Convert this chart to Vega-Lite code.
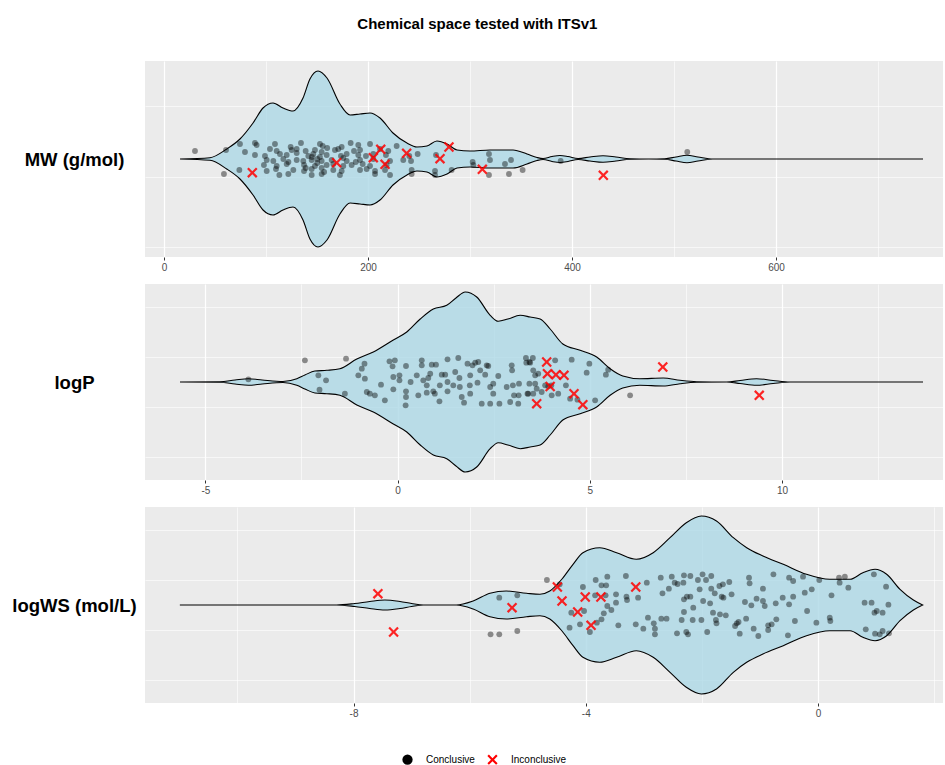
{
"$schema": "https://vega.github.io/schema/vega-lite/v6.json",
"padding": {"left": 11, "top": 17, "right": 2, "bottom": 2},
"title": {"text": "Chemical space tested with ITSv1", "fontSize": 15, "fontWeight": "bold", "font": "Liberation Sans", "anchor": "middle", "frame": "bounds", "offset": 29, "color": "#000000"},
"spacing": 12,
"datasets": {
"v1": [
{"v":15.7,"lo":0,"hi":0},{"v":45.1,"lo":-1.3,"hi":1.3},{"v":61.5,"lo":-10,"hi":10},{"v":74.5,"lo":-20,"hi":20},{"v":87.3,"lo":-36,"hi":36},{"v":97.1,"lo":-51,"hi":51},{"v":106.9,"lo":-56,"hi":56},{"v":116.7,"lo":-51,"hi":51},{"v":126.5,"lo":-48,"hi":48},{"v":136.3,"lo":-61,"hi":61},{"v":143.1,"lo":-80,"hi":80},{"v":151,"lo":-88,"hi":88},{"v":159.8,"lo":-81,"hi":81},{"v":172.5,"lo":-55,"hi":55},{"v":182.4,"lo":-44,"hi":44},{"v":192.2,"lo":-45,"hi":45},{"v":202,"lo":-46,"hi":46},{"v":211.8,"lo":-41,"hi":41},{"v":224.5,"lo":-26,"hi":26},{"v":238.2,"lo":-16,"hi":16},{"v":248,"lo":-12,"hi":12},{"v":257.8,"lo":-13,"hi":13},{"v":267.6,"lo":-18,"hi":18},{"v":277.5,"lo":-15,"hi":15},{"v":287.3,"lo":-9,"hi":9},{"v":300,"lo":-8,"hi":8},{"v":319.6,"lo":-9,"hi":9},{"v":342.2,"lo":-9,"hi":9},{"v":355.9,"lo":-5,"hi":5},{"v":365.7,"lo":-1.5,"hi":1.5},{"v":371.6,"lo":-0.5,"hi":0.5},{"v":380.4,"lo":-2.5,"hi":2.5},{"v":388.2,"lo":-3.5,"hi":3.5},{"v":396.1,"lo":-2.5,"hi":2.5},{"v":405.9,"lo":-0.5,"hi":0.5},{"v":417.6,"lo":-2,"hi":2},{"v":430.4,"lo":-3.3,"hi":3.3},{"v":443.1,"lo":-2,"hi":2},{"v":456.9,"lo":-0.3,"hi":0.3},{"v":475,"lo":0,"hi":0},{"v":491,"lo":-0.3,"hi":0.3},{"v":502,"lo":-2,"hi":2},{"v":512.7,"lo":-3.7,"hi":3.7},{"v":523.5,"lo":-2,"hi":2},{"v":538.2,"lo":0,"hi":0},{"v":744.1,"lo":0,"hi":0}
],
"v2": [
{"v":-5.66,"lo":0,"hi":0},{"v":-4.62,"lo":-0.3,"hi":0.3},{"v":-4.23,"lo":-2,"hi":2},{"v":-3.88,"lo":-3.3,"hi":3.3},{"v":-3.52,"lo":-2,"hi":2},{"v":-2.98,"lo":-0.5,"hi":0.5},{"v":-2.62,"lo":-3.3,"hi":3.3},{"v":-2.41,"lo":-7,"hi":7},{"v":-2.15,"lo":-11,"hi":11},{"v":-1.84,"lo":-11.7,"hi":11.7},{"v":-1.5,"lo":-13.3,"hi":13.3},{"v":-1.06,"lo":-23,"hi":23},{"v":-0.63,"lo":-30,"hi":30},{"v":-0.11,"lo":-42,"hi":42},{"v":0.24,"lo":-50,"hi":50},{"v":0.59,"lo":-63,"hi":63},{"v":0.93,"lo":-73,"hi":73},{"v":1.28,"lo":-76.7,"hi":76.7},{"v":1.52,"lo":-84,"hi":84},{"v":1.76,"lo":-90,"hi":90},{"v":2.06,"lo":-85,"hi":85},{"v":2.41,"lo":-66.7,"hi":66.7},{"v":2.62,"lo":-60.7,"hi":60.7},{"v":2.87,"lo":-63,"hi":63},{"v":3.19,"lo":-66.7,"hi":66.7},{"v":3.45,"lo":-65,"hi":65},{"v":3.71,"lo":-63,"hi":63},{"v":3.97,"lo":-53,"hi":53},{"v":4.3,"lo":-38,"hi":38},{"v":4.75,"lo":-31.7,"hi":31.7},{"v":5.18,"lo":-25,"hi":25},{"v":5.53,"lo":-13.3,"hi":13.3},{"v":5.86,"lo":-6,"hi":6},{"v":6.3,"lo":-3.3,"hi":3.3},{"v":6.91,"lo":-4,"hi":4},{"v":7.35,"lo":-1.7,"hi":1.7},{"v":7.78,"lo":-0.3,"hi":0.3},{"v":8.56,"lo":0,"hi":0},{"v":8.91,"lo":-1.5,"hi":1.5},{"v":9.34,"lo":-3.3,"hi":3.3},{"v":9.77,"lo":-1.5,"hi":1.5},{"v":10.21,"lo":0,"hi":0},{"v":13.67,"lo":0,"hi":0}
],
"v3": [
{"v":-10.99,"lo":0,"hi":0},{"v":-8.29,"lo":0,"hi":0},{"v":-7.98,"lo":-1.5,"hi":1.5},{"v":-7.72,"lo":-3.5,"hi":3.5},{"v":-7.46,"lo":-5,"hi":5},{"v":-7.2,"lo":-3.5,"hi":3.5},{"v":-7,"lo":-1.5,"hi":1.5},{"v":-6.8,"lo":0,"hi":0},{"v":-6.23,"lo":0,"hi":0},{"v":-5.94,"lo":-4,"hi":4},{"v":-5.65,"lo":-11.7,"hi":11.7},{"v":-5.37,"lo":-14,"hi":14},{"v":-5.02,"lo":-11.7,"hi":11.7},{"v":-4.79,"lo":-10.7,"hi":10.7},{"v":-4.62,"lo":-14,"hi":14},{"v":-4.41,"lo":-26,"hi":26},{"v":-4.22,"lo":-40.7,"hi":40.7},{"v":-4.05,"lo":-52.3,"hi":52.3},{"v":-3.76,"lo":-57.3,"hi":57.3},{"v":-3.47,"lo":-52.3,"hi":52.3},{"v":-3.13,"lo":-45.7,"hi":45.7},{"v":-2.84,"lo":-52.3,"hi":52.3},{"v":-2.55,"lo":-67.3,"hi":67.3},{"v":-2.27,"lo":-82.3,"hi":82.3},{"v":-2.01,"lo":-89,"hi":89},{"v":-1.75,"lo":-84,"hi":84},{"v":-1.46,"lo":-67.3,"hi":67.3},{"v":-1.23,"lo":-57.3,"hi":57.3},{"v":-0.95,"lo":-49,"hi":49},{"v":-0.6,"lo":-40.7,"hi":40.7},{"v":-0.2,"lo":-30.7,"hi":30.7},{"v":0.2,"lo":-25.7,"hi":25.7},{"v":0.55,"lo":-25.7,"hi":25.7},{"v":0.77,"lo":-32.3,"hi":32.3},{"v":0.98,"lo":-35.7,"hi":35.7},{"v":1.18,"lo":-30.7,"hi":30.7},{"v":1.41,"lo":-15.7,"hi":15.7},{"v":1.64,"lo":-5,"hi":5},{"v":1.8,"lo":0,"hi":0}
],
"p1": [
{"v":74.5,"y":15,"status":"Conclusive"},{"v":89.2,"y":16,"status":"Conclusive"},{"v":90.8,"y":14,"status":"Conclusive"},{"v":108.8,"y":15,"status":"Conclusive"},{"v":134.3,"y":16,"status":"Conclusive"},{"v":152.9,"y":15,"status":"Conclusive"},{"v":183,"y":16,"status":"Conclusive"},{"v":202,"y":15,"status":"Conclusive"},{"v":228.1,"y":13,"status":"Conclusive"},
{"v":124.2,"y":12,"status":"Conclusive"},{"v":155.6,"y":13,"status":"Conclusive"},{"v":174.2,"y":12,"status":"Conclusive"},{"v":190.5,"y":14,"status":"Conclusive"},
{"v":30.4,"y":8,"status":"Conclusive"},{"v":60.8,"y":9,"status":"Conclusive"},{"v":79.4,"y":7,"status":"Conclusive"},{"v":103.9,"y":10,"status":"Conclusive"},{"v":110.5,"y":8,"status":"Conclusive"},{"v":125.2,"y":9,"status":"Conclusive"},{"v":130.1,"y":10,"status":"Conclusive"},{"v":138.9,"y":8,"status":"Conclusive"},{"v":148,"y":9,"status":"Conclusive"},{"v":154.6,"y":7,"status":"Conclusive"},{"v":167.6,"y":9,"status":"Conclusive"},{"v":170.9,"y":10,"status":"Conclusive"},{"v":186.3,"y":8,"status":"Conclusive"},{"v":192.2,"y":9,"status":"Conclusive"},{"v":211.8,"y":10,"status":"Conclusive"},{"v":219.9,"y":8,"status":"Conclusive"},
{"v":89.2,"y":4,"status":"Conclusive"},{"v":99,"y":3,"status":"Conclusive"},{"v":113.7,"y":5,"status":"Conclusive"},{"v":120.3,"y":4,"status":"Conclusive"},{"v":141.5,"y":3,"status":"Conclusive"},{"v":146.4,"y":5,"status":"Conclusive"},{"v":159.5,"y":4,"status":"Conclusive"},{"v":173.5,"y":3,"status":"Conclusive"},{"v":179.1,"y":5,"status":"Conclusive"},{"v":190.5,"y":4,"status":"Conclusive"},{"v":198,"y":3,"status":"Conclusive"},{"v":205.2,"y":5,"status":"Conclusive"},{"v":217.6,"y":4,"status":"Conclusive"},{"v":240.5,"y":3,"status":"Conclusive"},{"v":248.7,"y":5,"status":"Conclusive"},{"v":266.7,"y":4,"status":"Conclusive"},
{"v":100.7,"y":-1,"status":"Conclusive"},{"v":107.2,"y":-2,"status":"Conclusive"},{"v":117,"y":0,"status":"Conclusive"},{"v":130.1,"y":-1,"status":"Conclusive"},{"v":136.6,"y":-2,"status":"Conclusive"},{"v":144.8,"y":-1,"status":"Conclusive"},{"v":150.3,"y":0,"status":"Conclusive"},{"v":154.6,"y":-2,"status":"Conclusive"},{"v":164.4,"y":-1,"status":"Conclusive"},{"v":179.1,"y":-2,"status":"Conclusive"},{"v":192.2,"y":-1,"status":"Conclusive"},{"v":205.2,"y":0,"status":"Conclusive"},{"v":221.6,"y":-2,"status":"Conclusive"},{"v":234.6,"y":-1,"status":"Conclusive"},{"v":242.2,"y":-2,"status":"Conclusive"},{"v":302.6,"y":-3,"status":"Conclusive"},{"v":319.6,"y":-1,"status":"Conclusive"},{"v":340.2,"y":-1,"status":"Conclusive"},
{"v":98,"y":-6,"status":"Conclusive"},{"v":110.5,"y":-7,"status":"Conclusive"},{"v":120.3,"y":-5,"status":"Conclusive"},{"v":137.3,"y":-6,"status":"Conclusive"},{"v":148,"y":-7,"status":"Conclusive"},{"v":159.5,"y":-6,"status":"Conclusive"},{"v":166,"y":-5,"status":"Conclusive"},{"v":175.8,"y":-7,"status":"Conclusive"},{"v":184,"y":-6,"status":"Conclusive"},{"v":194.8,"y":-5,"status":"Conclusive"},{"v":202,"y":-7,"status":"Conclusive"},{"v":218.3,"y":-6,"status":"Conclusive"},{"v":303.3,"y":-6,"status":"Conclusive"},{"v":334.3,"y":-5,"status":"Conclusive"},
{"v":73.9,"y":-11,"status":"Conclusive"},{"v":100.7,"y":-12,"status":"Conclusive"},{"v":109.8,"y":-10,"status":"Conclusive"},{"v":126.8,"y":-11,"status":"Conclusive"},{"v":137.3,"y":-12,"status":"Conclusive"},{"v":144.8,"y":-10,"status":"Conclusive"},{"v":166,"y":-11,"status":"Conclusive"},{"v":174.2,"y":-12,"status":"Conclusive"},{"v":192.2,"y":-11,"status":"Conclusive"},{"v":198.7,"y":-10,"status":"Conclusive"},{"v":206.9,"y":-12,"status":"Conclusive"},{"v":216.7,"y":-11,"status":"Conclusive"},{"v":242.8,"y":-11,"status":"Conclusive"},{"v":265.7,"y":-12,"status":"Conclusive"},{"v":282,"y":-11,"status":"Conclusive"},{"v":351.6,"y":-11,"status":"Conclusive"},
{"v":58.8,"y":-15,"status":"Conclusive"},{"v":113.1,"y":-16,"status":"Conclusive"},{"v":121.9,"y":-15,"status":"Conclusive"},{"v":144.8,"y":-16,"status":"Conclusive"},{"v":154.6,"y":-15,"status":"Conclusive"},{"v":172.5,"y":-16,"status":"Conclusive"},{"v":206.9,"y":-15,"status":"Conclusive"},{"v":221.6,"y":-16,"status":"Conclusive"},{"v":242.8,"y":-15,"status":"Conclusive"},{"v":265.7,"y":-16,"status":"Conclusive"},{"v":318.6,"y":-16,"status":"Conclusive"},{"v":338.2,"y":-15,"status":"Conclusive"},
{"v":318.6,"y":5,"status":"Conclusive"},{"v":388.9,"y":-2,"status":"Conclusive"},{"v":513,"y":7,"status":"Conclusive"},
{"v":150.3,"y":-4,"status":"Conclusive"},{"v":152.9,"y":2,"status":"Conclusive"},{"v":154.6,"y":-9,"status":"Conclusive"},{"v":157,"y":-13,"status":"Conclusive"},{"v":139,"y":-9,"status":"Conclusive"},{"v":130.1,"y":6,"status":"Conclusive"},{"v":175.8,"y":1,"status":"Conclusive"},{"v":188,"y":-3,"status":"Conclusive"},{"v":160,"y":11,"status":"Conclusive"},{"v":122,"y":-3,"status":"Conclusive"},{"v":145,"y":2,"status":"Conclusive"},
{"v":86.6,"y":-13.7,"status":"Inconclusive"},{"v":169.3,"y":-3.7,"status":"Inconclusive"},{"v":205.2,"y":1.3,"status":"Inconclusive"},{"v":212.5,"y":9.7,"status":"Inconclusive"},{"v":216.7,"y":-5.3,"status":"Inconclusive"},{"v":237.9,"y":5.7,"status":"Inconclusive"},{"v":270.6,"y":0.3,"status":"Inconclusive"},{"v":279.4,"y":12,"status":"Inconclusive"},{"v":312.1,"y":-10.3,"status":"Inconclusive"},{"v":430.7,"y":-16.3,"status":"Inconclusive"}
],
"p2": [
{"v":-2.41,"y":21.7,"status":"Conclusive"},{"v":-1.34,"y":23.3,"status":"Conclusive"},{"v":-3.88,"y":2.7,"status":"Conclusive"},{"v":-2.06,"y":6.7,"status":"Conclusive"},{"v":-1.86,"y":1.7,"status":"Conclusive"},{"v":-2.03,"y":-7.7,"status":"Conclusive"},{"v":-1.37,"y":-11.7,"status":"Conclusive"},{"v":-0.86,"y":18.3,"status":"Conclusive"},{"v":-0.93,"y":13.3,"status":"Conclusive"},{"v":-1.02,"y":6.7,"status":"Conclusive"},{"v":-0.85,"y":3.3,"status":"Conclusive"},{"v":-0.8,"y":-10,"status":"Conclusive"},{"v":-0.72,"y":-11.7,"status":"Conclusive"},{"v":-0.59,"y":-13.3,"status":"Conclusive"},{"v":-0.33,"y":-18.3,"status":"Conclusive"},{"v":-0.43,"y":-2.7,"status":"Conclusive"},{"v":-0.21,"y":20.7,"status":"Conclusive"},{"v":-0.07,"y":21.7,"status":"Conclusive"},{"v":-0.13,"y":15.7,"status":"Conclusive"},{"v":-0.11,"y":5,"status":"Conclusive"},{"v":-0.11,"y":-7.3,"status":"Conclusive"},{"v":0.05,"y":6.7,"status":"Conclusive"},{"v":0.05,"y":1.7,"status":"Conclusive"},{"v":0.22,"y":16,"status":"Conclusive"},{"v":0.22,"y":-9.3,"status":"Conclusive"},{"v":0.22,"y":-15,"status":"Conclusive"},{"v":0.21,"y":-23.3,"status":"Conclusive"},{"v":0.34,"y":0,"status":"Conclusive"},{"v":0.5,"y":6.7,"status":"Conclusive"},{"v":0.54,"y":-13.3,"status":"Conclusive"},{"v":0.63,"y":21.7,"status":"Conclusive"},{"v":0.63,"y":16.7,"status":"Conclusive"},{"v":0.67,"y":1.7,"status":"Conclusive"},{"v":0.76,"y":-3.3,"status":"Conclusive"},{"v":0.76,"y":-10.7,"status":"Conclusive"},{"v":0.89,"y":17.3,"status":"Conclusive"},{"v":1.0,"y":17.3,"status":"Conclusive"},{"v":0.85,"y":8.3,"status":"Conclusive"},{"v":0.8,"y":4,"status":"Conclusive"},{"v":0.93,"y":-9.3,"status":"Conclusive"},{"v":0.97,"y":-11.7,"status":"Conclusive"},{"v":1.09,"y":-19.3,"status":"Conclusive"},{"v":1.1,"y":-3.3,"status":"Conclusive"},{"v":1.15,"y":7.3,"status":"Conclusive"},{"v":1.24,"y":7.3,"status":"Conclusive"},{"v":1.3,"y":22.7,"status":"Conclusive"},{"v":1.3,"y":0,"status":"Conclusive"},{"v":1.3,"y":-9.3,"status":"Conclusive"},{"v":1.45,"y":-3.3,"status":"Conclusive"},{"v":1.5,"y":10,"status":"Conclusive"},{"v":1.58,"y":24,"status":"Conclusive"},{"v":1.61,"y":4,"status":"Conclusive"},{"v":1.62,"y":-5,"status":"Conclusive"},{"v":1.67,"y":-15,"status":"Conclusive"},{"v":1.73,"y":-20.7,"status":"Conclusive"},{"v":1.82,"y":18.3,"status":"Conclusive"},{"v":1.89,"y":6.7,"status":"Conclusive"},{"v":1.88,"y":-3.3,"status":"Conclusive"},{"v":1.89,"y":-11.7,"status":"Conclusive"},{"v":1.95,"y":16.7,"status":"Conclusive"},{"v":2.02,"y":19.3,"status":"Conclusive"},{"v":2.1,"y":20,"status":"Conclusive"},{"v":2.15,"y":11.7,"status":"Conclusive"},{"v":2.08,"y":-0.7,"status":"Conclusive"},{"v":2.19,"y":-21.7,"status":"Conclusive"},{"v":2.28,"y":7.3,"status":"Conclusive"},{"v":2.32,"y":16.7,"status":"Conclusive"},{"v":2.36,"y":16,"status":"Conclusive"},{"v":2.41,"y":-21.7,"status":"Conclusive"},{"v":2.41,"y":-5,"status":"Conclusive"},{"v":2.49,"y":-1.7,"status":"Conclusive"},{"v":2.49,"y":-11.7,"status":"Conclusive"},{"v":2.62,"y":6,"status":"Conclusive"},{"v":2.65,"y":-21.7,"status":"Conclusive"},{"v":2.84,"y":-5,"status":"Conclusive"},{"v":2.93,"y":-20,"status":"Conclusive"},{"v":2.97,"y":16.7,"status":"Conclusive"},{"v":2.98,"y":11.7,"status":"Conclusive"},{"v":3.0,"y":-3.3,"status":"Conclusive"},{"v":3.03,"y":-13.3,"status":"Conclusive"},{"v":3.14,"y":-21.7,"status":"Conclusive"},{"v":3.15,"y":-13.3,"status":"Conclusive"},{"v":3.16,"y":-1.7,"status":"Conclusive"},{"v":3.34,"y":24,"status":"Conclusive"},{"v":3.35,"y":19.3,"status":"Conclusive"},{"v":3.52,"y":24,"status":"Conclusive"},{"v":3.45,"y":19.3,"status":"Conclusive"},{"v":3.4,"y":-11.7,"status":"Conclusive"},{"v":3.58,"y":6.7,"status":"Conclusive"},{"v":3.62,"y":-6.7,"status":"Conclusive"},
{"v":3.43,"y":20,"status":"Conclusive"},{"v":3.53,"y":11.7,"status":"Conclusive"},{"v":3.66,"y":8.3,"status":"Conclusive"},{"v":3.43,"y":-1.7,"status":"Conclusive"},{"v":3.58,"y":-1.7,"status":"Conclusive"},{"v":3.38,"y":-11.7,"status":"Conclusive"},{"v":3.53,"y":-11.7,"status":"Conclusive"},{"v":3.75,"y":-10,"status":"Conclusive"},{"v":3.84,"y":-3.3,"status":"Conclusive"},{"v":3.92,"y":-4.3,"status":"Conclusive"},{"v":4.0,"y":-3.3,"status":"Conclusive"},{"v":4.01,"y":-13.3,"status":"Conclusive"},{"v":4.1,"y":21.7,"status":"Conclusive"},{"v":4.18,"y":-11.7,"status":"Conclusive"},{"v":4.38,"y":-3.3,"status":"Conclusive"},{"v":4.53,"y":22.3,"status":"Conclusive"},{"v":4.49,"y":-16.7,"status":"Conclusive"},{"v":4.68,"y":-17.7,"status":"Conclusive"},{"v":4.99,"y":18.3,"status":"Conclusive"},{"v":4.92,"y":9.3,"status":"Conclusive"},{"v":5.14,"y":-18.3,"status":"Conclusive"},{"v":5.42,"y":7.3,"status":"Conclusive"},{"v":5.48,"y":12.3,"status":"Conclusive"},{"v":6.05,"y":-13.3,"status":"Conclusive"},
{"v":3.88,"y":20,"status":"Inconclusive"},{"v":3.9,"y":8.3,"status":"Inconclusive"},{"v":4.12,"y":7.3,"status":"Inconclusive"},{"v":4.33,"y":6.7,"status":"Inconclusive"},{"v":3.97,"y":-4.5,"status":"Inconclusive"},{"v":4.59,"y":-11.7,"status":"Inconclusive"},{"v":4.82,"y":-22.7,"status":"Inconclusive"},{"v":3.62,"y":-21.7,"status":"Inconclusive"},{"v":6.9,"y":15,"status":"Inconclusive"},{"v":9.41,"y":-13.3,"status":"Inconclusive"}
],
"p3": [
{"v":-5.49,"y":7.3,"status":"Conclusive"},{"v":-5.18,"y":9.7,"status":"Conclusive"},{"v":-5.64,"y":-29.3,"status":"Conclusive"},{"v":-5.49,"y":-29.3,"status":"Conclusive"},{"v":-5.18,"y":-26,"status":"Conclusive"},
{"v":-4.67,"y":25,"status":"Conclusive"},{"v":-4.45,"y":20.7,"status":"Conclusive"},{"v":-4.05,"y":18,"status":"Conclusive"},{"v":-3.83,"y":25,"status":"Conclusive"},{"v":-3.63,"y":28.3,"status":"Conclusive"},{"v":-3.73,"y":19.7,"status":"Conclusive"},{"v":-3.65,"y":19.7,"status":"Conclusive"},{"v":-3.66,"y":9.7,"status":"Conclusive"},{"v":-3.84,"y":9.7,"status":"Conclusive"},{"v":-3.48,"y":10.7,"status":"Conclusive"},{"v":-3.48,"y":2.3,"status":"Conclusive"},{"v":-3.63,"y":-1,"status":"Conclusive"},{"v":-3.56,"y":-5,"status":"Conclusive"},{"v":-3.69,"y":-8.3,"status":"Conclusive"},{"v":-4.25,"y":-7.7,"status":"Conclusive"},{"v":-4.03,"y":-6,"status":"Conclusive"},{"v":-4.1,"y":-19.3,"status":"Conclusive"},{"v":-4.28,"y":-22.7,"status":"Conclusive"},{"v":-3.93,"y":-27,"status":"Conclusive"},{"v":-3.81,"y":-17.7,"status":"Conclusive"},{"v":-3.73,"y":-14.3,"status":"Conclusive"},{"v":-3.44,"y":-20.3,"status":"Conclusive"},{"v":-3.31,"y":29,"status":"Conclusive"},{"v":-3.3,"y":8.3,"status":"Conclusive"},{"v":-3.29,"y":5,"status":"Conclusive"},{"v":-3.14,"y":-19.3,"status":"Conclusive"},{"v":-3.1,"y":7.3,"status":"Conclusive"},{"v":-3.01,"y":-23.7,"status":"Conclusive"},{"v":-2.95,"y":22.3,"status":"Conclusive"},{"v":-2.93,"y":-12.7,"status":"Conclusive"},{"v":-2.83,"y":-18.3,"status":"Conclusive"},{"v":-2.81,"y":-29.3,"status":"Conclusive"},{"v":-2.81,"y":-23.7,"status":"Conclusive"},{"v":-2.71,"y":27.3,"status":"Conclusive"},{"v":-2.68,"y":11.7,"status":"Conclusive"},{"v":-2.7,"y":-13.7,"status":"Conclusive"},{"v":-2.61,"y":-13.7,"status":"Conclusive"},{"v":-2.57,"y":16.3,"status":"Conclusive"},{"v":-2.52,"y":28.3,"status":"Conclusive"},{"v":-2.47,"y":22.3,"status":"Conclusive"},{"v":-2.42,"y":21,"status":"Conclusive"},{"v":-2.43,"y":-28.3,"status":"Conclusive"},{"v":-2.35,"y":-15,"status":"Conclusive"},{"v":-2.32,"y":22.3,"status":"Conclusive"},{"v":-2.31,"y":29.7,"status":"Conclusive"},{"v":-2.31,"y":5.7,"status":"Conclusive"},{"v":-2.31,"y":-7,"status":"Conclusive"},{"v":-2.26,"y":8.3,"status":"Conclusive"},{"v":-2.27,"y":-27,"status":"Conclusive"},{"v":-2.24,"y":-29.3,"status":"Conclusive"},{"v":-2.2,"y":8.3,"status":"Conclusive"},{"v":-2.15,"y":-2.7,"status":"Conclusive"},{"v":-2.16,"y":-15,"status":"Conclusive"},{"v":-2.2,"y":29,"status":"Conclusive"},{"v":-2.07,"y":25,"status":"Conclusive"},{"v":-2.04,"y":15.7,"status":"Conclusive"},{"v":-2.01,"y":-15,"status":"Conclusive"},{"v":-1.98,"y":4,"status":"Conclusive"},{"v":-1.99,"y":30.7,"status":"Conclusive"},{"v":-1.93,"y":25,"status":"Conclusive"},{"v":-1.91,"y":-27,"status":"Conclusive"},{"v":-1.86,"y":1.7,"status":"Conclusive"},{"v":-1.84,"y":29,"status":"Conclusive"},{"v":-1.84,"y":16.3,"status":"Conclusive"},{"v":-1.81,"y":-7.7,"status":"Conclusive"},{"v":-1.78,"y":11.7,"status":"Conclusive"},{"v":-1.76,"y":-15,"status":"Conclusive"},{"v":-1.75,"y":-18.3,"status":"Conclusive"},{"v":-1.7,"y":19,"status":"Conclusive"},{"v":-1.69,"y":-9.3,"status":"Conclusive"},{"v":-1.64,"y":20.7,"status":"Conclusive"},{"v":-1.66,"y":8.3,"status":"Conclusive"},{"v":-1.63,"y":7.3,"status":"Conclusive"},{"v":-1.59,"y":-10.3,"status":"Conclusive"},{"v":-1.53,"y":23,"status":"Conclusive"},{"v":-1.49,"y":10.7,"status":"Conclusive"},{"v":-1.43,"y":-21,"status":"Conclusive"},{"v":-1.4,"y":-18.3,"status":"Conclusive"},{"v":-1.37,"y":-17,"status":"Conclusive"},{"v":-1.35,"y":-28.7,"status":"Conclusive"},{"v":-1.26,"y":3,"status":"Conclusive"},{"v":-1.19,"y":27.3,"status":"Conclusive"},{"v":-1.18,"y":21.7,"status":"Conclusive"},{"v":-1.24,"y":-13.7,"status":"Conclusive"},{"v":-1.15,"y":-0.3,"status":"Conclusive"},{"v":-1.11,"y":-23.7,"status":"Conclusive"},{"v":-1.06,"y":6.3,"status":"Conclusive"},{"v":-1.03,"y":-31,"status":"Conclusive"},{"v":-0.95,"y":16.3,"status":"Conclusive"},{"v":-0.95,"y":4,"status":"Conclusive"},{"v":-0.92,"y":-1,"status":"Conclusive"},{"v":-0.86,"y":-25,"status":"Conclusive"},{"v":-0.86,"y":-20.3,"status":"Conclusive"},{"v":-0.8,"y":-19.3,"status":"Conclusive"},{"v":-0.77,"y":30.7,"status":"Conclusive"},{"v":-0.73,"y":1.7,"status":"Conclusive"},{"v":-0.72,"y":-14.3,"status":"Conclusive"},{"v":-0.61,"y":7.3,"status":"Conclusive"},{"v":-0.52,"y":-30.3,"status":"Conclusive"},{"v":-0.5,"y":27.3,"status":"Conclusive"},{"v":-0.5,"y":0.7,"status":"Conclusive"},{"v":-0.43,"y":24,"status":"Conclusive"},{"v":-0.43,"y":8.3,"status":"Conclusive"},{"v":-0.4,"y":-16,"status":"Conclusive"},{"v":-0.26,"y":28.3,"status":"Conclusive"},{"v":-0.23,"y":12.3,"status":"Conclusive"},{"v":-0.19,"y":-6,"status":"Conclusive"},{"v":-0.11,"y":15.7,"status":"Conclusive"},{"v":-0.03,"y":-17.7,"status":"Conclusive"},{"v":0.02,"y":25,"status":"Conclusive"},{"v":0.2,"y":-12.7,"status":"Conclusive"},{"v":0.21,"y":-16,"status":"Conclusive"},{"v":0.23,"y":9.7,"status":"Conclusive"},{"v":0.36,"y":27.3,"status":"Conclusive"},{"v":0.37,"y":22.3,"status":"Conclusive"},{"v":0.46,"y":28.3,"status":"Conclusive"},{"v":0.52,"y":17.3,"status":"Conclusive"},{"v":0.8,"y":2.3,"status":"Conclusive"},{"v":0.82,"y":-24.3,"status":"Conclusive"},{"v":0.92,"y":2.3,"status":"Conclusive"},{"v":0.96,"y":30.7,"status":"Conclusive"},{"v":0.97,"y":-7.7,"status":"Conclusive"},{"v":1.01,"y":-6,"status":"Conclusive"},{"v":0.98,"y":-28.7,"status":"Conclusive"},{"v":1.06,"y":-29.3,"status":"Conclusive"},{"v":1.11,"y":-7.7,"status":"Conclusive"},{"v":1.11,"y":-26,"status":"Conclusive"},{"v":1.17,"y":18.3,"status":"Conclusive"},{"v":1.21,"y":0.3,"status":"Conclusive"},{"v":1.22,"y":-28.3,"status":"Conclusive"},
{"v":-4.49,"y":18,"status":"Inconclusive"},{"v":-4.41,"y":4,"status":"Inconclusive"},{"v":-4.14,"y":-7,"status":"Inconclusive"},{"v":-4.01,"y":8,"status":"Inconclusive"},{"v":-3.74,"y":8,"status":"Inconclusive"},{"v":-3.91,"y":-20.3,"status":"Inconclusive"},{"v":-3.14,"y":18,"status":"Inconclusive"},{"v":-7.58,"y":11.3,"status":"Inconclusive"},{"v":-7.31,"y":-27,"status":"Inconclusive"},{"v":-5.27,"y":-2.7,"status":"Inconclusive"}
]
},
"vconcat": [
{
"width": 798, "height": 196,
"layer": [
{"data": {"name": "v1"},
 "mark": {"type": "area", "orient": "vertical", "interpolate": "monotone", "fill": "#ADD8E6", "fillOpacity": 0.8, "stroke": "#000000", "strokeWidth": 1.1},
 "encoding": {
  "x": {"field": "v", "type": "quantitative", "title": null, "scale": {"domain": [-18.6, 763.7], "nice": false, "zero": false},
        "axis": {"values": [0,100,200,300,400,500,600,700], "labelExpr": "datum.value % 200 === 0 ? '' + datum.value : ''",
                 "tickOpacity": {"condition": {"test": "datum.value % 200 === 0", "value": 1}, "value": 0},
                 "gridWidth": {"condition": {"test": "datum.value % 200 === 0", "value": 1.2}, "value": 0.6}}},
  "y": {"field": "hi", "type": "quantitative", "title": "MW (g/mol)", "scale": {"domain": [-98, 98], "nice": false, "zero": false},
        "axis": {"values": [-87.5,-70,-52.5,-35,-17.5,0,17.5,35,52.5,70,87.5], "labels": false, "ticks": false,
                 "gridWidth": {"condition": {"test": "datum.value % 35 === 0", "value": 1.2}, "value": 0.6},
                 "titleAngle": 0, "titleAlign": "center", "titleBaseline": "middle", "titleX": -71, "titleY": 98}},
  "y2": {"field": "lo"}
 }},
{"data": {"name": "p1"},
 "mark": {"type": "point", "filled": true, "strokeWidth": 0},
 "encoding": {
  "x": {"field": "v", "type": "quantitative", "title": null},
  "y": {"field": "y", "type": "quantitative", "title": "MW (g/mol)"},
  "shape": {"field": "status", "type": "nominal", "title": null, "scale": {"domain": ["Conclusive", "Inconclusive"], "range": ["circle", "M-1,-0.7L-0.7,-1L0,-0.3L0.7,-1L1,-0.7L0.3,0L1,0.7L0.7,1L0,0.3L-0.7,1L-1,0.7L-0.3,0Z"]}},
  "color": {"field": "status", "type": "nominal", "title": null, "scale": {"domain": ["Conclusive", "Inconclusive"], "range": ["#000000", "#FF0000"]}},
  "opacity": {"condition": {"test": "datum.status === 'Conclusive'", "value": 0.42}, "value": 0.85},
  "size": {"condition": {"test": "datum.status === 'Conclusive'", "value": 34}, "value": 110}
 }}
]
},
{
"width": 798, "height": 196,
"layer": [
{"data": {"name": "v2"},
 "mark": {"type": "area", "orient": "vertical", "interpolate": "monotone", "fill": "#ADD8E6", "fillOpacity": 0.8, "stroke": "#000000", "strokeWidth": 1.1},
 "encoding": {
  "x": {"field": "v", "type": "quantitative", "title": null, "scale": {"domain": [-6.57, 14.19], "nice": false, "zero": false},
        "axis": {"values": [-5,-2.5,0,2.5,5,7.5,10,12.5], "labelExpr": "datum.value % 5 === 0 ? '' + datum.value : ''",
                 "tickOpacity": {"condition": {"test": "datum.value % 5 === 0", "value": 1}, "value": 0},
                 "gridWidth": {"condition": {"test": "datum.value % 5 === 0", "value": 1.2}, "value": 0.6}}},
  "y": {"field": "hi", "type": "quantitative", "title": "logP", "scale": {"domain": [-98, 98], "nice": false, "zero": false},
        "axis": {"values": [-75,-50,-25,0,25,50,75], "labels": false, "ticks": false,
                 "gridWidth": {"condition": {"test": "datum.value % 50 === 0", "value": 1.2}, "value": 0.6},
                 "titleAngle": 0, "titleAlign": "center", "titleBaseline": "middle", "titleX": -71, "titleY": 98}},
  "y2": {"field": "lo"}
 }},
{"data": {"name": "p2"},
 "mark": {"type": "point", "filled": true, "strokeWidth": 0},
 "encoding": {
  "x": {"field": "v", "type": "quantitative", "title": null},
  "y": {"field": "y", "type": "quantitative", "title": "logP"},
  "shape": {"field": "status", "type": "nominal", "title": null, "scale": {"domain": ["Conclusive", "Inconclusive"], "range": ["circle", "M-1,-0.7L-0.7,-1L0,-0.3L0.7,-1L1,-0.7L0.3,0L1,0.7L0.7,1L0,0.3L-0.7,1L-1,0.7L-0.3,0Z"]}},
  "color": {"field": "status", "type": "nominal", "title": null, "scale": {"domain": ["Conclusive", "Inconclusive"], "range": ["#000000", "#FF0000"]}},
  "opacity": {"condition": {"test": "datum.status === 'Conclusive'", "value": 0.42}, "value": 0.85},
  "size": {"condition": {"test": "datum.status === 'Conclusive'", "value": 34}, "value": 110}
 }}
]
},
{
"width": 798, "height": 196,
"layer": [
{"data": {"name": "v3"},
 "mark": {"type": "area", "orient": "vertical", "interpolate": "monotone", "fill": "#ADD8E6", "fillOpacity": 0.8, "stroke": "#000000", "strokeWidth": 1.1},
 "encoding": {
  "x": {"field": "v", "type": "quantitative", "title": null, "scale": {"domain": [-11.59, 2.15], "nice": false, "zero": false},
        "axis": {"values": [-10,-8,-6,-4,-2,0,2], "labelExpr": "datum.value % 4 === 0 ? '' + datum.value : ''",
                 "tickOpacity": {"condition": {"test": "datum.value % 4 === 0", "value": 1}, "value": 0},
                 "gridWidth": {"condition": {"test": "datum.value % 4 === 0", "value": 1.2}, "value": 0.6}}},
  "y": {"field": "hi", "type": "quantitative", "title": "logWS (mol/L)", "scale": {"domain": [-98, 98], "nice": false, "zero": false},
        "axis": {"values": [-75,-50,-25,0,25,50,75], "labels": false, "ticks": false,
                 "gridWidth": {"condition": {"test": "datum.value % 50 === 0", "value": 1.2}, "value": 0.6},
                 "titleAngle": 0, "titleAlign": "center", "titleBaseline": "middle", "titleX": -71, "titleY": 98}},
  "y2": {"field": "lo"}
 }},
{"data": {"name": "p3"},
 "mark": {"type": "point", "filled": true, "strokeWidth": 0},
 "encoding": {
  "x": {"field": "v", "type": "quantitative", "title": null},
  "y": {"field": "y", "type": "quantitative", "title": "logWS (mol/L)"},
  "shape": {"field": "status", "type": "nominal", "title": null, "scale": {"domain": ["Conclusive", "Inconclusive"], "range": ["circle", "M-1,-0.7L-0.7,-1L0,-0.3L0.7,-1L1,-0.7L0.3,0L1,0.7L0.7,1L0,0.3L-0.7,1L-1,0.7L-0.3,0Z"]}},
  "color": {"field": "status", "type": "nominal", "title": null, "scale": {"domain": ["Conclusive", "Inconclusive"], "range": ["#000000", "#FF0000"]}},
  "opacity": {"condition": {"test": "datum.status === 'Conclusive'", "value": 0.42}, "value": 0.85},
  "size": {"condition": {"test": "datum.status === 'Conclusive'", "value": 34}, "value": 110}
 }}
]
}
],
"config": {
 "font": "Liberation Sans",
 "view": {"fill": "#EBEBEB", "stroke": null},
 "axis": {"domain": false, "labelFont": "Liberation Sans", "labelFontSize": 10, "labelColor": "#4D4D4D", "labelPadding": 2, "tickColor": "#333333", "tickSize": 3, "tickWidth": 1, "gridColor": "#FFFFFF", "titleFont": "Liberation Sans", "titleFontSize": 18.5, "titleFontWeight": "bold", "titleColor": "#000000"},
 "legend": {"orient": "none", "legendX": 257, "legendY": 693, "direction": "horizontal", "labelFont": "Liberation Sans", "labelFontSize": 10, "labelColor": "#000000", "labelOffset": 13, "columnPadding": 12, "symbolSize": 105, "symbolStrokeWidth": 0, "symbolOpacity": 1}
}
}
